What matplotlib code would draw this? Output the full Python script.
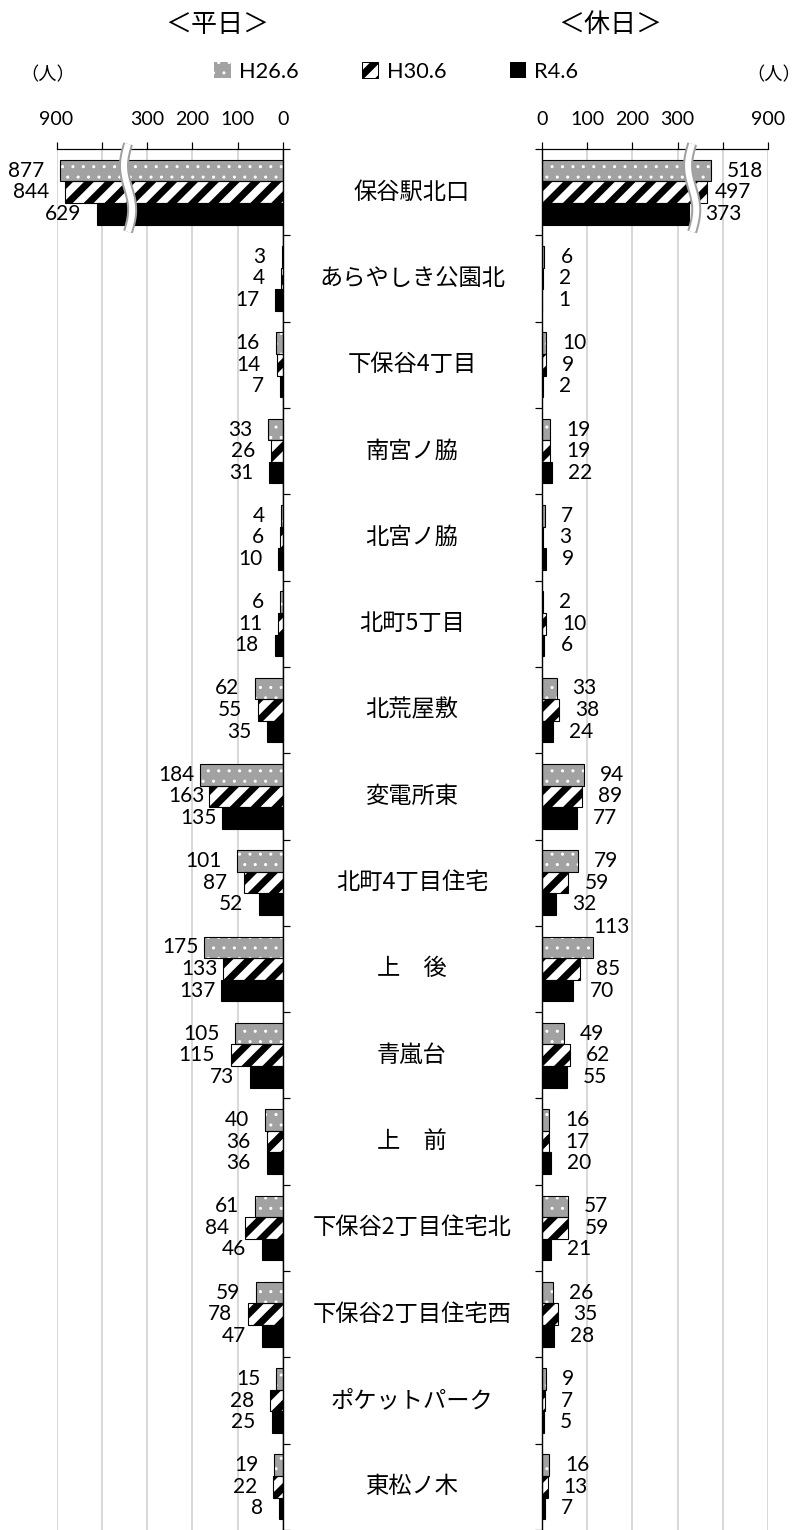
import numpy as np
import matplotlib
matplotlib.use("Agg")
import matplotlib.pyplot as plt
from matplotlib.patches import Patch
from matplotlib.transforms import blended_transform_factory

plt.rcParams['font.family'] = ['Lato', 'Noto Sans CJK JP', 'DejaVu Sans']
JP = ['Noto Sans CJK JP', 'DejaVu Sans']

# --- data (人)
stops = ["保谷駅北口", "あらやしき公園北", "下保谷4丁目", "南宮ノ脇", "北宮ノ脇",
         "北町5丁目", "北荒屋敷", "変電所東", "北町4丁目住宅", "上　後", "青嵐台",
         "上　前", "下保谷2丁目住宅北", "下保谷2丁目住宅西", "ポケットパーク", "東松ノ木"]
years = ["H26.6", "H30.6", "R4.6"]

weekday_h26 = [877, 3, 16, 33, 4, 6, 62, 184, 101, 175, 105, 40, 61, 59, 15, 19]
weekday_h30 = [844, 4, 14, 26, 6, 11, 55, 163, 87, 133, 115, 36, 84, 78, 28, 22]
weekday_r4 = [629, 17, 7, 31, 10, 18, 35, 135, 52, 137, 73, 36, 46, 47, 25, 8]

holiday_h26 = [518, 6, 10, 19, 7, 2, 33, 94, 79, 113, 49, 16, 57, 26, 9, 16]
holiday_h30 = [497, 2, 9, 19, 3, 10, 38, 89, 59, 85, 62, 17, 59, 35, 7, 13]
holiday_r4 = [373, 1, 2, 22, 9, 6, 24, 77, 32, 70, 55, 20, 21, 28, 5, 7]

tick_vals = [900, 600, 300, 200, 100, 0]
tick_labels = ["900", "", "300", "200", "100", "0"]

# 300より上は圧縮(軸の途中を省略)
BREAK = 300


def fwd(v):
    v = np.asarray(v, dtype=float)
    return np.where(v <= BREAK, v, BREAK + (v - BREAK) / 3.0)


def inv(u):
    u = np.asarray(u, dtype=float)
    return np.where(u <= BREAK, u, BREAK + (u - BREAK) * 3.0)


DPI = 125
PX = 72.0 / DPI   # 1px in points
BAR_H = 0.25
n = len(stops)

styles = [
    dict(face="#a2a2a2", hatch="..", hcolor="white", hlw=1.0),
    dict(face="white", hatch="//", hcolor="black", hlw=7.0),
    dict(face="black", hatch=None, hcolor="black", hlw=None),
]


def set_hlw(p, lw_px):
    if lw_px and hasattr(p, "set_hatch_linewidth"):
        p.set_hatch_linewidth(lw_px * PX)


fig = plt.figure(figsize=(801 / DPI, 1530 / DPI), dpi=DPI)
top = 1 - 149 / 1530
ax_l = fig.add_axes([56.5 / 801, 0, 226.5 / 801, top])
ax_r = fig.add_axes([541.7 / 801, 0, 226.6 / 801, top])


def draw_panel(ax, series, side):
    ax.set_xscale("function", functions=(fwd, inv))
    if side == "weekday":
        ax.set_xlim(900, 0)
    else:
        ax.set_xlim(0, 900)
    ax.set_ylim(n - 0.5, -0.5)
    ax.set_axisbelow(True)

    for j, vals in enumerate(series):
        ys = np.arange(n) + (j - 1) * BAR_H
        st = styles[j]
        bars = ax.barh(ys, vals, height=BAR_H, color=st["face"],
                       edgecolor=st["hcolor"], hatch=st["hatch"],
                       linewidth=0, zorder=2)
        for b in bars:
            set_hlw(b, st["hlw"])
        ax.barh(ys, vals, height=BAR_H, fill=False, edgecolor="black",
                linewidth=1.1 * PX, zorder=3)

        for i, v in enumerate(vals):
            y = ys[i]
            if side == "weekday":
                off = 5 if 130 <= v < 300 else 16
                ax.annotate(str(v), (v, y), xytext=(-off * PX, 0),
                            textcoords="offset points", ha="right", va="center",
                            fontsize=12, zorder=5)
            else:
                dx, dy = 16, 0
                if (j, i) == (1, 0):
                    dx = 7
                if (j, i) == (0, 9):
                    dx, dy = 0, 20
                ax.annotate(str(v), (v, y), xytext=(dx * PX, dy * PX),
                            textcoords="offset points", ha="left", va="center",
                            fontsize=12, zorder=5)

    # 軸まわり
    ax.xaxis.tick_top()
    ax.set_xticks(tick_vals)
    ax.set_xticklabels(tick_labels)
    ax.tick_params(axis="x", direction="out", length=7 * PX, width=1.2 * PX,
                   pad=8 * PX * 1.736, labelsize=11.3, colors="black")
    ax.xaxis.grid(True, color="#d9d9d9", linewidth=2.0 * PX)
    ax.set_yticks(np.arange(-0.5, n, 1.0))
    ax.set_yticklabels([])
    ax.tick_params(axis="y", direction="out", length=7 * PX, width=1.2 * PX)
    ax.spines["bottom"].set_visible(False)
    ax.spines["top"].set_linewidth(1.2 * PX)
    if side == "weekday":
        ax.yaxis.tick_right()
        ax.spines["left"].set_visible(False)
        ax.spines["right"].set_linewidth(1.4 * PX)
    else:
        ax.yaxis.tick_left()
        ax.spines["right"].set_visible(False)
        ax.spines["left"].set_linewidth(1.4 * PX)

    # 波線(省略記号)
    bx = 0.316 if side == "weekday" else 0.664
    t = np.linspace(0, 1, 80)
    yy = -0.56 + t * 1.02
    xx = bx - 0.018 * np.sin(2 * np.pi * t)
    tr = blended_transform_factory(ax.transAxes, ax.transData)
    ax.plot(xx, yy, transform=tr, color="#a0a0a0", linewidth=10 * PX,
            solid_capstyle="butt", zorder=6, clip_on=False)
    ax.plot(xx, yy, transform=tr, color="white", linewidth=6 * PX,
            solid_capstyle="butt", zorder=7, clip_on=False)


draw_panel(ax_l, [weekday_h26, weekday_h30, weekday_r4], "weekday")
draw_panel(ax_r, [holiday_h26, holiday_h30, holiday_r4], "holiday")

# バス停名
tr_names = blended_transform_factory(fig.transFigure, ax_l.transData)
for i, name in enumerate(stops):
    ax_l.text(412 / 801, i, name, transform=tr_names, ha="center", va="center",
              fontsize=13.4, family=JP, clip_on=False)

# タイトル・単位
fig.text(217 / 801, 1 - 25 / 1530, "＜平日＞", ha="center", va="center",
         fontsize=15, family=JP)
fig.text(610 / 801, 1 - 25 / 1530, "＜休日＞", ha="center", va="center",
         fontsize=15, family=JP)
fig.text(20 / 801, 1 - 75 / 1530, "（人）", ha="left", va="center",
         fontsize=10.5, family=JP)
fig.text(1.0, 1 - 75 / 1530, "（人）", ha="right", va="center",
         fontsize=10.5, family=JP)

# 凡例
handles = [Patch(facecolor=st["face"], edgecolor=st["hcolor"], hatch=st["hatch"],
                 linewidth=0) for st in styles]
handles[1] = Patch(facecolor="white", edgecolor="black", hatch="//", linewidth=1.0 * PX)
leg = fig.legend(handles, years, ncol=3, loc="center",
                 bbox_to_anchor=(0.495, 1 - 72 / 1530), frameon=False,
                 handlelength=0.75, handleheight=0.75, handletextpad=0.4,
                 columnspacing=2.9, fontsize=12.5, borderaxespad=0)
for p, st in zip(leg.get_patches(), styles):
    set_hlw(p, st["hlw"])

fig.savefig("out.png", dpi=DPI)
plt.close(fig)
